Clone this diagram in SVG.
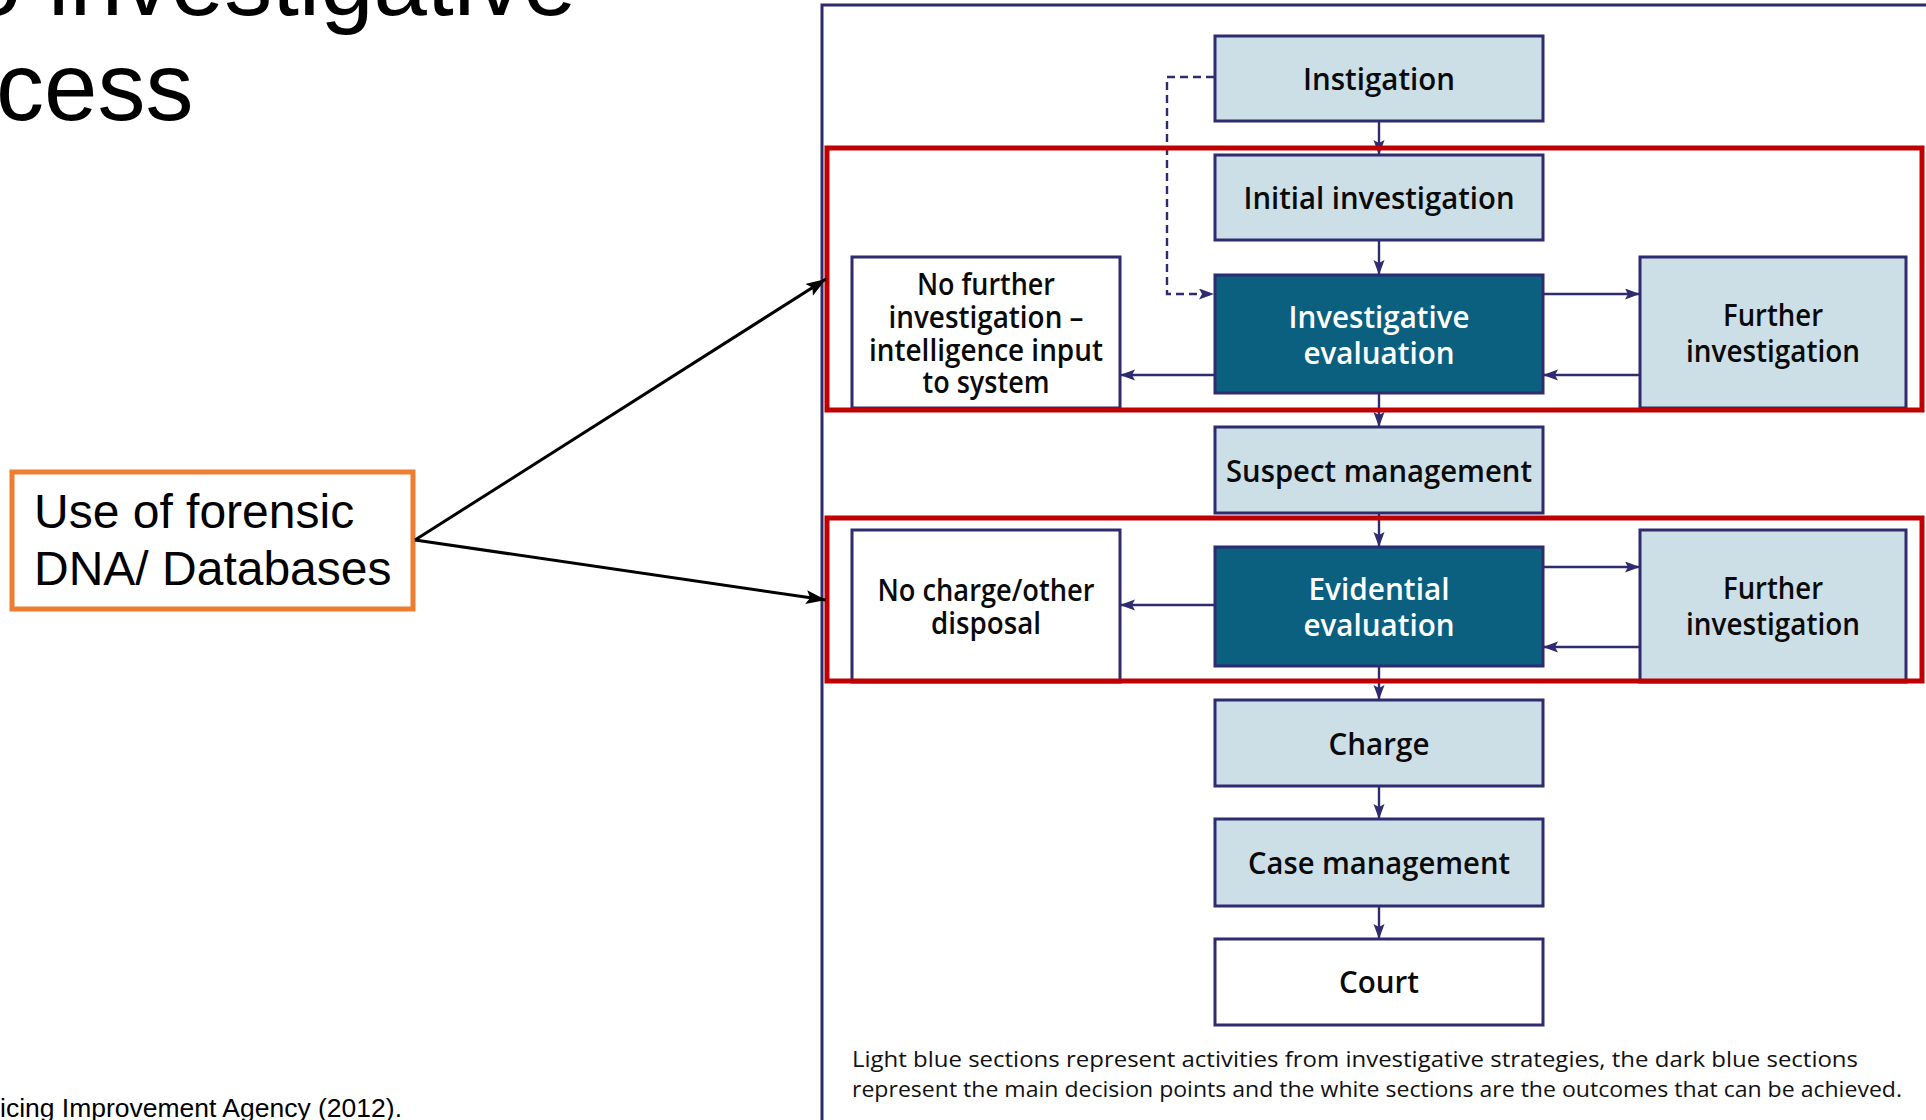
<svg xmlns="http://www.w3.org/2000/svg" width="1926" height="1120" viewBox="0 0 1926 1120">
<defs>
<style>
.box{stroke:#2e2b6e;stroke-width:3}
.lb{fill:#cddfe6}
.dk{fill:#0b5f7f}
.wh{fill:#ffffff}
.t{font-family:"Open Sans","Noto Sans",sans-serif;font-weight:600;font-size:30px;fill:#0a0a0a;text-anchor:middle}
.tw{fill:#ffffff}
.conn{stroke:#2e2b6e;stroke-width:2.4;fill:none;marker-end:url(#ah)}
.red{fill:none;stroke:#c00000;stroke-width:5}
.title{font-family:"Liberation Sans",Arial,sans-serif;font-size:96px;fill:#000}
</style>
<marker id="ah" markerUnits="userSpaceOnUse" markerWidth="17" markerHeight="13" refX="15" refY="5.5" orient="auto">
<path d="M0,0 L15,5.5 L0,11 L3,5.5 z" fill="#2e2b6e"/>
</marker>
<marker id="bh" markerUnits="userSpaceOnUse" markerWidth="22" markerHeight="16" refX="20" refY="7" orient="auto">
<path d="M0,0 L20,7 L0,14 L4,7 z" fill="#000"/>
</marker>
</defs>
<rect width="1926" height="1120" fill="#ffffff"/>

<g id="title">
<text class="title" x="-32" y="15">o investigative</text>
<text class="title" x="-4" y="120">cess</text>
</g>
<g id="footer">
<text x="0" y="1117" font-family="Liberation Sans, Arial, sans-serif" font-size="26" fill="#000" textLength="402" lengthAdjust="spacingAndGlyphs">icing Improvement Agency (2012).</text>
</g>

<path id="frame" d="M822,1120 V5 H1926" fill="none" stroke="#2e2b6e" stroke-width="3"/>

<g id="connectors">
<path class="conn" d="M1379,121 V155"/>
<path class="conn" d="M1379,240 V275"/>
<path class="conn" d="M1379,393 V427"/>
<path class="conn" d="M1379,513 V547"/>
<path class="conn" d="M1379,666 V700"/>
<path class="conn" d="M1379,786 V819"/>
<path class="conn" d="M1379,906 V939"/>
<path class="conn" d="M1214,77 H1167 V294 H1214" stroke-dasharray="8,5"/>
<path class="conn" d="M1543,294 H1640"/>
<path class="conn" d="M1640,375 H1543"/>
<path class="conn" d="M1215,375 H1120"/>
<path class="conn" d="M1543,567 H1640"/>
<path class="conn" d="M1640,647 H1543"/>
<path class="conn" d="M1215,605 H1120"/>
</g>

<g id="instigation"><rect class="box lb" x="1215" y="36" width="328" height="85"/><text class="t" x="1379" y="90" textLength="152" lengthAdjust="spacingAndGlyphs">Instigation</text></g>
<g id="initial"><rect class="box lb" x="1215" y="155" width="328" height="85"/><text class="t" x="1379" y="209" textLength="271" lengthAdjust="spacingAndGlyphs">Initial investigation</text></g>
<g id="inv-eval"><rect class="box dk" x="1215" y="275" width="328" height="118"/><text class="t tw" x="1379" y="328" textLength="181" lengthAdjust="spacingAndGlyphs">Investigative</text><text class="t tw" x="1379" y="364" textLength="151" lengthAdjust="spacingAndGlyphs">evaluation</text></g>
<g id="no-further"><rect class="box wh" x="852" y="257" width="268" height="151"/>
<text class="t" x="986" y="295" textLength="138" lengthAdjust="spacingAndGlyphs">No further</text>
<text class="t" x="986" y="328" textLength="195" lengthAdjust="spacingAndGlyphs">investigation –</text>
<text class="t" x="986" y="361" textLength="234" lengthAdjust="spacingAndGlyphs">intelligence input</text>
<text class="t" x="986" y="393" textLength="127" lengthAdjust="spacingAndGlyphs">to system</text></g>
<g id="further-1"><rect class="box lb" x="1640" y="257" width="266" height="151"/><text class="t" x="1773" y="326" textLength="100" lengthAdjust="spacingAndGlyphs">Further</text><text class="t" x="1773" y="362" textLength="174" lengthAdjust="spacingAndGlyphs">investigation</text></g>
<g id="suspect"><rect class="box lb" x="1215" y="427" width="328" height="86"/><text class="t" x="1379" y="482" textLength="306" lengthAdjust="spacingAndGlyphs">Suspect management</text></g>
<g id="no-charge"><rect class="box wh" x="852" y="530" width="268" height="152"/><text class="t" x="986" y="601" textLength="217" lengthAdjust="spacingAndGlyphs">No charge/other</text><text class="t" x="986" y="634" textLength="110" lengthAdjust="spacingAndGlyphs">disposal</text></g>
<g id="evidential"><rect class="box dk" x="1215" y="547" width="328" height="119"/><text class="t tw" x="1379" y="600" textLength="141" lengthAdjust="spacingAndGlyphs">Evidential</text><text class="t tw" x="1379" y="636" textLength="151" lengthAdjust="spacingAndGlyphs">evaluation</text></g>
<g id="further-2"><rect class="box lb" x="1640" y="530" width="266" height="152"/><text class="t" x="1773" y="599" textLength="100" lengthAdjust="spacingAndGlyphs">Further</text><text class="t" x="1773" y="635" textLength="174" lengthAdjust="spacingAndGlyphs">investigation</text></g>
<g id="charge"><rect class="box lb" x="1215" y="700" width="328" height="86"/><text class="t" x="1379" y="755" textLength="101" lengthAdjust="spacingAndGlyphs">Charge</text></g>
<g id="case"><rect class="box lb" x="1215" y="819" width="328" height="87"/><text class="t" x="1379" y="874" textLength="262" lengthAdjust="spacingAndGlyphs">Case management</text></g>
<g id="court"><rect class="box wh" x="1215" y="939" width="328" height="86"/><text class="t" x="1379" y="993" textLength="80" lengthAdjust="spacingAndGlyphs">Court</text></g>

<g id="caption" font-family="Open Sans, Noto Sans, sans-serif" font-size="22" fill="#111">
<text x="852" y="1067" textLength="1006" lengthAdjust="spacingAndGlyphs">Light blue sections represent activities from investigative strategies, the dark blue sections</text>
<text x="852" y="1097" textLength="1050" lengthAdjust="spacingAndGlyphs">represent the main decision points and the white sections are the outcomes that can be achieved.</text>
</g>

<g id="highlights">
<rect class="red" x="827" y="148" width="1095" height="262"/>
<rect class="red" x="827" y="518" width="1095" height="163"/>
</g>

<g id="dna-note">
<rect x="12" y="472" width="401" height="137" fill="#ffffff" stroke="#ed7d31" stroke-width="5"/>
<text x="34" y="528" font-family="Liberation Sans, Arial, sans-serif" font-size="48" fill="#000">Use of forensic</text>
<text x="34" y="585" font-family="Liberation Sans, Arial, sans-serif" font-size="48" fill="#000">DNA/ Databases</text>
</g>
<g id="dna-arrows" stroke="#000" stroke-width="3" fill="none">
<path d="M415,540 L826,279" marker-end="url(#bh)"/>
<path d="M415,540 L826,600" marker-end="url(#bh)"/>
</g>
</svg>
